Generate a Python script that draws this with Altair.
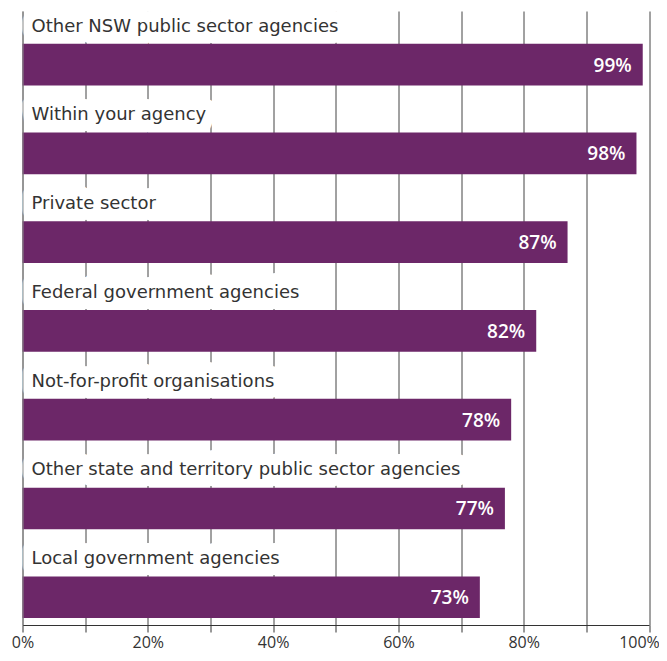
import altair as alt
import pandas as pd

categories = [
    "Other NSW public sector agencies",
    "Within your agency",
    "Private sector",
    "Federal government agencies",
    "Not-for-profit organisations",
    "Other state and territory public sector agencies",
    "Local government agencies",
]
values = [99, 98, 87, 82, 78, 77, 73]
tick_values = [0, 10, 20, 30, 40, 50, 60, 70, 80, 90, 100]

df = pd.DataFrame({"category": categories, "value": values})

LABEL_FONT = "DejaVu Sans"
NUM_FONT = "Open Sans"
BAR = "#6C2768"

y_enc = alt.Y(
    "category:N",
    sort=categories,
    scale=alt.Scale(paddingInner=0.531, paddingOuter=0.2235, align=0.825),
    axis=alt.Axis(labels=False, ticks=False, title=None, grid=False,
                  domainColor="#8a8a8a", domainWidth=1, zindex=2),
)
x_enc = alt.X(
    "value:Q",
    scale=alt.Scale(domain=[0, 100], nice=False),
    axis=alt.Axis(
        values=tick_values,
        labelExpr="datum.value % 20 == 0 ? datum.value + '%' : ''",
        labelFlush=False,
        labelOffset={"condition": {"test": "datum.value == 100", "value": -10}, "value": 0},
        grid=True, gridColor="#444444", gridWidth=1,
        tickColor="#333333", tickSize=7, tickWidth=1,
        domainColor="#333333", domainWidth=1,
        labelFont=NUM_FONT, labelFontSize=16, labelColor="#333333",
        labelPadding=2, title=None, zindex=0,
    ),
)

base = alt.Chart(df)

label_bg = base.mark_text(
    align="left", baseline="alphabetic", dx=9, dy=-33,
    font=LABEL_FONT, fontSize=18, color="white",
    stroke="white", strokeWidth=22, strokeJoin="round",
).encode(x=alt.value(0), y=y_enc, text="category:N")

bars = base.mark_bar(color=BAR).encode(x=x_enc, y=y_enc)

labels = base.mark_text(
    align="left", baseline="alphabetic", dx=9, dy=-33,
    font=LABEL_FONT, fontSize=18, color="#333333",
).encode(x=alt.value(0), y=y_enc, text="category:N")

values_txt = base.transform_calculate(
    lab="datum.value + '%'"
).mark_text(
    align="right", baseline="middle", dx=-11, dy=1,
    font=NUM_FONT, fontSize=19, fontWeight=600, color="white",
).encode(x=alt.X("value:Q"), y=y_enc, text="lab:N")

chart = alt.layer(label_bg, bars, labels, values_txt).properties(
    width=626.5, height=614,
    padding={"left": 14.5, "top": 3, "right": 10, "bottom": 28},
    autosize=alt.AutoSizeParams(type="none"),
    background="white",
).configure_view(stroke=None)

chart.save("out.html", embed_options={"renderer": "svg", "actions": False})
